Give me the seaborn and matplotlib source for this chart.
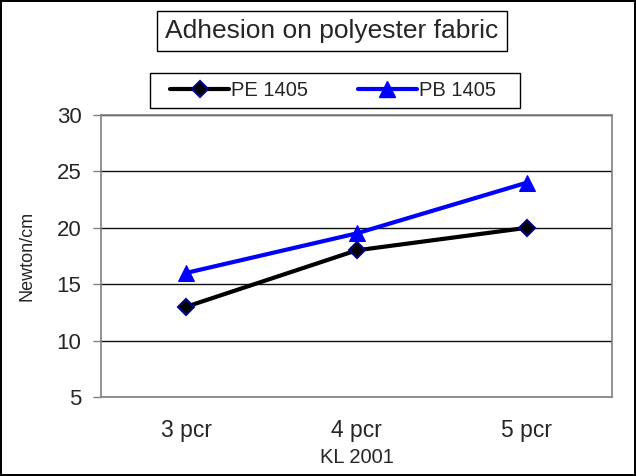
import pandas as pd
import matplotlib
matplotlib.use("Agg")
import matplotlib.pyplot as plt
import seaborn as sns
from matplotlib.patches import Rectangle

# data
categories = ['3 pcr', '4 pcr', '5 pcr']
pe_1405 = [13, 18, 20]
pb_1405 = [16, 19.5, 24]

df = pd.DataFrame({
    'pos': list(range(len(categories))) * 2,
    'val': pe_1405 + pb_1405,
    'serie': ['PE 1405'] * 3 + ['PB 1405'] * 3,
})

sns.set_style('white')
plt.rcParams['font.family'] = ['Liberation Sans', 'DejaVu Sans']

fig = plt.figure(figsize=(6.36, 4.76), dpi=100)
fig.patch.set_edgecolor('black')
fig.patch.set_linewidth(1.5)
ax = fig.add_axes([101 / 636, 1 - 397 / 476, 511 / 636, 282 / 476])

sns.lineplot(
    data=df, x='pos', y='val', hue='serie', style='serie',
    palette={'PE 1405': 'black', 'PB 1405': '#0000ff'},
    markers={'PE 1405': 'D', 'PB 1405': '^'},
    dashes=False, linewidth=3.0, legend=False, ax=ax,
)
# marker styling
ax.lines[0].set_markerfacecolor('black')
ax.lines[0].set_markeredgecolor('#000080')
ax.lines[0].set_markersize(8)
ax.lines[0].set_markeredgewidth(1.5)
ax.lines[1].set_markerfacecolor('#0000ff')
ax.lines[1].set_markeredgecolor('#0000ff')
ax.lines[1].set_markersize(11)

ax.set_xlim(-0.5, 2.5)
ax.set_ylim(5, 30)
ax.set_yticks([5, 10, 15, 20, 25, 30])
ax.set_xticks(range(3))
ax.set_xticklabels(categories)
ax.set_xticks([-0.5, 0.5, 1.5, 2.5], minor=True)
ax.tick_params(axis='x', which='major', length=0, labelsize=16.5, pad=16)
ax.tick_params(axis='x', which='minor', length=6, width=1, color='#808080', direction='out')
ax.tick_params(axis='y', length=6, width=1, color='#808080', labelsize=16, left=True, pad=8)
ax.grid(axis='y', color='#111111', linewidth=1)
for s in ax.spines.values():
    s.set_color('#808080')
    s.set_linewidth(1.2)
ax.set_xlabel('KL 2001', fontsize=14.5, labelpad=4)
ax.set_ylabel('Newton/cm', fontsize=13, labelpad=15)

# title box
fig.text(332 / 636, 1 - 31 / 476, 'Adhesion on polyester fabric', ha='center', va='center',
         fontsize=19,
         bbox=dict(boxstyle='square,pad=0.3', facecolor='white', edgecolor='black', linewidth=1))

# legend box (frame drawn separately to match the wide Excel legend)
fig.patches.append(Rectangle((150 / 636, 1 - 108 / 476), 370 / 636, 35 / 476,
                             transform=fig.transFigure, facecolor='white',
                             edgecolor='black', linewidth=1, zorder=0))
handles = [
    plt.Line2D([], [], color='black', lw=3.0, marker='D', markersize=8,
               markerfacecolor='black', markeredgecolor='#000080', markeredgewidth=1.5),
    plt.Line2D([], [], color='#0000ff', lw=3.0, marker='^', markersize=11),
]
leg = fig.legend(handles, ['PE 1405', 'PB 1405'], ncol=2, loc='center',
                 bbox_to_anchor=(333 / 636, 1 - 91 / 476), fontsize=14.5,
                 frameon=False, handlelength=2.9,
                 handletextpad=0.1, columnspacing=2.5, borderpad=0.35, borderaxespad=0)

fig.savefig('out.png', dpi=100, edgecolor=fig.get_edgecolor())
